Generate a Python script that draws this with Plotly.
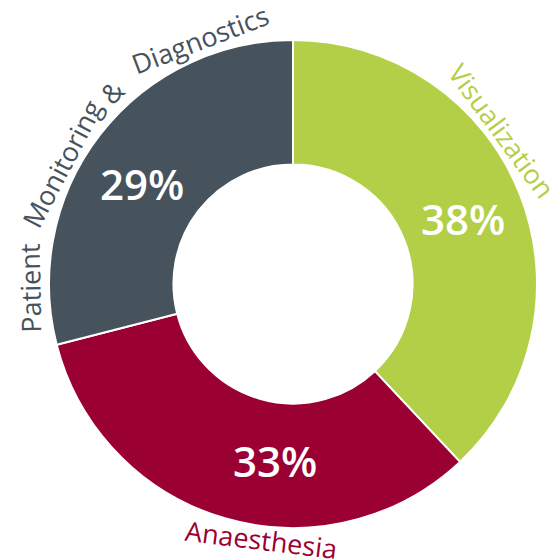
import math
import plotly.graph_objects as go

W, H = 555, 559

# ---- data ----
segments = ["Visualization", "Anaesthesia", "Patient Monitoring & Diagnostics"]
shares = [38, 33, 29]
colors = ["#b3cf48", "#9b0032", "#46525c"]

# percent label placement: (angle clockwise from 12 o'clock, radius px)
pct_pos = [(68.8, 182), (185.8, 177), (-56.4, 181)]

# outside label words: (word, angle clockwise from 12 o'clock, radius px, rotation, colour index)
label_words = [
    ("Visualization", 53.7, 259, 53.7, 0),
    ("Anaesthesia", 187.0, 257, 7.0, 1),
    ("Patient", -91.0, 263, -91.0, 2),
    ("Monitoring", -62.4, 261, -62.4, 2),
    ("&", -43.2, 264, -43.2, 2),
    ("Diagnostics", -20.9, 262, -20.9, 2),
]

# ---- geometry (pixels) ----
cx, cy, R = 293, 284, 244


def to_paper(theta, r):
    t = math.radians(theta)
    px = cx + r * math.sin(t)
    py = cy - r * math.cos(t)
    return px / W, 1 - py / H


fig = go.Figure(
    go.Pie(
        labels=segments,
        values=shares,
        sort=False,
        direction="clockwise",
        rotation=0,
        hole=0.49,
        marker=dict(colors=colors, line=dict(color="white", width=2)),
        textinfo="none",
        showlegend=False,
        hoverinfo="label+percent",
        domain=dict(
            x=[(cx - R) / W, (cx + R) / W],
            y=[1 - (cy + R) / H, 1 - (cy - R) / H],
        ),
    )
)

for v, (theta, r) in zip(shares, pct_pos):
    x, y = to_paper(theta, r)
    fig.add_annotation(
        x=x, y=y, xref="paper", yref="paper",
        text=f"{v}%", showarrow=False,
        xanchor="center", yanchor="middle",
        font=dict(family="Open Sans", size=42, color="white", weight=600),
    )

for word, theta, r, ang, ci in label_words:
    x, y = to_paper(theta, r)
    fig.add_annotation(
        x=x, y=y, xref="paper", yref="paper",
        text=word, showarrow=False, textangle=ang,
        xanchor="center", yanchor="middle",
        font=dict(family="Open Sans", size=27, color=colors[ci]),
    )

fig.update_layout(
    width=W, height=H,
    margin=dict(l=0, r=0, t=0, b=0),
    paper_bgcolor="white", plot_bgcolor="white",
)

fig.write_html("out.html")
